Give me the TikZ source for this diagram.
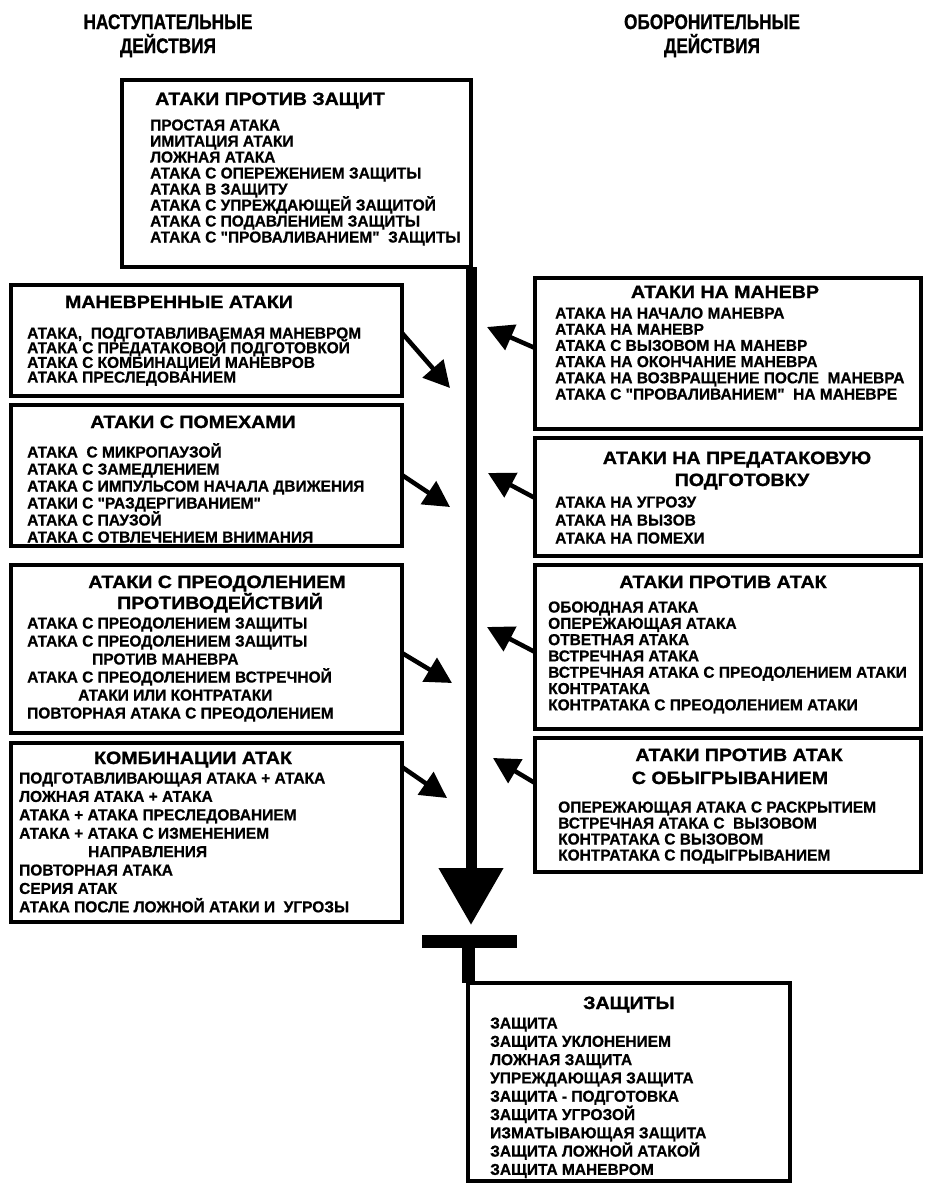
\documentclass[tikz,border=0pt]{standalone}
\usepackage{fontspec}
\setmainfont{Liberation Sans}
\newfontfamily\itemfnt{Liberation Sans Bold}[FakeStretch=0.98, FakeBold=0.7]
\newfontfamily\titlefnt{Liberation Sans Bold}[FakeStretch=1.1, FakeBold=1.3]
\newfontfamily\headfnt{Liberation Sans Bold}[FakeStretch=0.82, FakeBold=1]
\usetikzlibrary{arrows.meta}
\newcommand\mkitems[5]{\foreach \t [count=\i from 0] in {#5}{\node[itm] (#1-\i) at (#2,{#3+\i*#4}) {\t};}}
\begin{document}
\begin{tikzpicture}[x=1pt,y=-1pt,
 box/.style={draw, line width=3.2pt, anchor=north west, inner sep=0pt, outer sep=0pt},
 ttl/.style={font=\titlefnt\fontsize{17.8}{20}\selectfont, inner sep=0pt, anchor=base},
 itm/.style={font=\itemfnt\fontsize{15.8}{16}\selectfont, inner sep=0pt, anchor=base west},
 hd/.style={font=\headfnt\fontsize{21}{24}\selectfont, inner sep=0pt, anchor=base},
 link/.style={line width=4.5pt, -{Triangle[length=26pt,width=27pt]}},
 mainbar/.style={line width=11pt, -{Triangle[length=57pt,width=62pt]}},
]
\fill[white] (0,0) rectangle (926,1186);
\useasboundingbox (0,0) rectangle (926,1186);

% headings
\node[hd] (h1a) at (168,29) {НАСТУПАТЕЛЬНЫЕ};
\node[hd] (h1b) at (168,53) {ДЕЙСТВИЯ};
\node[hd] (h2a) at (712,29) {ОБОРОНИТЕЛЬНЫЕ};
\node[hd] (h2b) at (712,53) {ДЕЙСТВИЯ};

% boxes
\node[box, minimum width=349pt, minimum height=187pt] (top) at (122,80) {};
\node[box, minimum width=391pt, minimum height=111pt] (L1) at (11,285) {};
\node[box, minimum width=391pt, minimum height=141pt] (L2) at (11,405) {};
\node[box, minimum width=391pt, minimum height=168pt] (L3) at (11,565) {};
\node[box, minimum width=391pt, minimum height=179pt] (L4) at (11,743) {};
\node[box, minimum width=386pt, minimum height=151pt] (R1) at (535,278) {};
\node[box, minimum width=386pt, minimum height=118pt] (R2) at (535,438) {};
\node[box, minimum width=386pt, minimum height=164pt] (R3) at (535,565) {};
\node[box, minimum width=386pt, minimum height=134pt] (R4) at (535,738) {};
\node[box, minimum width=322pt, minimum height=198pt] (def) at (468,983) {};

% top box
\node[ttl] (topT) at (270,105) {АТАКИ ПРОТИВ ЗАЩИТ};
\mkitems{topI}{150}{130.5}{16}{ПРОСТАЯ АТАКА, ИМИТАЦИЯ АТАКИ, ЛОЖНАЯ АТАКА, АТАКА С ОПЕРЕЖЕНИЕМ ЗАЩИТЫ, АТАКА В ЗАЩИТУ, АТАКА С УПРЕЖДАЮЩЕЙ ЗАЩИТОЙ, АТАКА С ПОДАВЛЕНИЕМ ЗАЩИТЫ, АТАКА С "ПРОВАЛИВАНИЕМ"\ \ ЗАЩИТЫ}

% left boxes
\node[ttl] (L1T) at (179,308) {МАНЕВРЕННЫЕ АТАКИ};
\mkitems{L1I}{27}{338.5}{14.7}{{АТАКА,\ \ ПОДГОТАВЛИВАЕМАЯ МАНЕВРОМ}, АТАКА С ПРЕДАТАКОВОЙ ПОДГОТОВКОЙ, АТАКА С КОМБИНАЦИЕЙ МАНЕВРОВ, АТАКА ПРЕСЛЕДОВАНИЕМ}

\node[ttl] (L2T) at (193,428) {АТАКИ С ПОМЕХАМИ};
\mkitems{L2I}{27}{457.5}{17}{АТАКА\ \ С МИКРОПАУЗОЙ, АТАКА С ЗАМЕДЛЕНИЕМ, АТАКА С ИМПУЛЬСОМ НАЧАЛА ДВИЖЕНИЯ, АТАКИ С "РАЗДЕРГИВАНИЕМ", АТАКА С ПАУЗОЙ, АТАКА С ОТВЛЕЧЕНИЕМ ВНИМАНИЯ}

\node[ttl] (L3T) at (217,588) {АТАКИ С ПРЕОДОЛЕНИЕМ};
\node[ttl] (L3T2) at (220,609) {ПРОТИВОДЕЙСТВИЙ};
\mkitems{L3I}{27}{628.5}{18}{АТАКА С ПРЕОДОЛЕНИЕМ ЗАЩИТЫ, АТАКА С ПРЕОДОЛЕНИЕМ ЗАЩИТЫ, \hspace*{65pt}ПРОТИВ МАНЕВРА, АТАКА С ПРЕОДОЛЕНИЕМ ВСТРЕЧНОЙ, \hspace*{51pt}АТАКИ ИЛИ КОНТРАТАКИ, ПОВТОРНАЯ АТАКА С ПРЕОДОЛЕНИЕМ}

\node[ttl] (L4T) at (193,764) {КОМБИНАЦИИ АТАК};
\mkitems{L4I}{19}{783.5}{18.4}{ПОДГОТАВЛИВАЮЩАЯ АТАКА + АТАКА, ЛОЖНАЯ АТАКА + АТАКА, АТАКА + АТАКА ПРЕСЛЕДОВАНИЕМ, АТАКА + АТАКА С ИЗМЕНЕНИЕМ, \hspace*{69pt}НАПРАВЛЕНИЯ, ПОВТОРНАЯ АТАКА, СЕРИЯ АТАК, АТАКА ПОСЛЕ ЛОЖНОЙ АТАКИ И\ \ УГРОЗЫ}

% right boxes
\node[ttl] (R1T) at (725,298) {АТАКИ НА МАНЕВР};
\mkitems{R1I}{555}{318.5}{16.2}{АТАКА НА НАЧАЛО МАНЕВРА, АТАКА НА МАНЕВР, АТАКА С ВЫЗОВОМ НА МАНЕВР, АТАКА НА ОКОНЧАНИЕ МАНЕВРА, АТАКА НА ВОЗВРАЩЕНИЕ ПОСЛЕ\ \ МАНЕВРА, АТАКА С "ПРОВАЛИВАНИЕМ"\ \ НА МАНЕВРЕ}

\node[ttl] (R2T) at (737,464) {АТАКИ НА ПРЕДАТАКОВУЮ};
\node[ttl] (R2T2) at (742,486) {ПОДГОТОВКУ};
\mkitems{R2I}{555}{507.5}{18}{АТАКА НА УГРОЗУ, АТАКА НА ВЫЗОВ, АТАКА НА ПОМЕХИ}

\node[ttl] (R3T) at (723,588) {АТАКИ ПРОТИВ АТАК};
\mkitems{R3I}{548}{612.5}{16.3}{ОБОЮДНАЯ АТАКА, ОПЕРЕЖАЮЩАЯ АТАКА, ОТВЕТНАЯ АТАКА, ВСТРЕЧНАЯ АТАКА, ВСТРЕЧНАЯ АТАКА С ПРЕОДОЛЕНИЕМ АТАКИ, КОНТРАТАКА, КОНТРАТАКА С ПРЕОДОЛЕНИЕМ АТАКИ}

\node[ttl] (R4T) at (739,761) {АТАКИ ПРОТИВ АТАК};
\node[ttl] (R4T2) at (730,784) {С ОБЫГРЫВАНИЕМ};
\mkitems{R4I}{558}{812.5}{16}{ОПЕРЕЖАЮЩАЯ АТАКА С РАСКРЫТИЕМ, ВСТРЕЧНАЯ АТАКА С\ \ ВЫЗОВОМ, КОНТРАТАКА С ВЫЗОВОМ, КОНТРАТАКА С ПОДЫГРЫВАНИЕМ}

% defences
\node[ttl] (defT) at (629,1009) {ЗАЩИТЫ};
\mkitems{defI}{490}{1028.5}{18.3}{ЗАЩИТА, ЗАЩИТА УКЛОНЕНИЕМ, ЛОЖНАЯ ЗАЩИТА, УПРЕЖДАЮЩАЯ ЗАЩИТА, ЗАЩИТА - ПОДГОТОВКА, ЗАЩИТА УГРОЗОЙ, ИЗМАТЫВАЮЩАЯ ЗАЩИТА, ЗАЩИТА ЛОЖНОЙ АТАКОЙ, ЗАЩИТА МАНЕВРОМ}

% main bar, T-bar, stem
\node[fill=black, minimum width=95pt, minimum height=13pt, inner sep=0pt, outer sep=0pt] (tbar) at (469.5,941.5) {};
\draw[mainbar, shorten >=10pt] (top.south east) -- (top.south east |- tbar.north);
\draw[line width=13pt] (tbar.south -| def.north west) -- (def.north west);

% arrow tips (free ends)
\coordinate (lt1) at (450,388);
\coordinate (lt2) at (450,507);
\coordinate (lt3) at (452,683);
\coordinate (lt4) at (447,798);
\coordinate (rt1) at (487,327);
\coordinate (rt2) at (488,473);
\coordinate (rt3) at (487,627);
\coordinate (rt4) at (493,758);

\draw[link] (L1.east |- 0,333) -- (lt1);
\draw[link] (L2.east |- 0,475) -- (lt2);
\draw[link] (L3.east |- 0,653) -- (lt3);
\draw[link] (L4.east |- 0,767) -- (lt4);
\draw[link] (R1.west |- 0,348) -- (rt1);
\draw[link] (R2.west |- 0,498) -- (rt2);
\draw[link] (R3.west |- 0,652) -- (rt3);
\draw[link] (R4.west |- 0,783) -- (rt4);
\end{tikzpicture}
\end{document}
